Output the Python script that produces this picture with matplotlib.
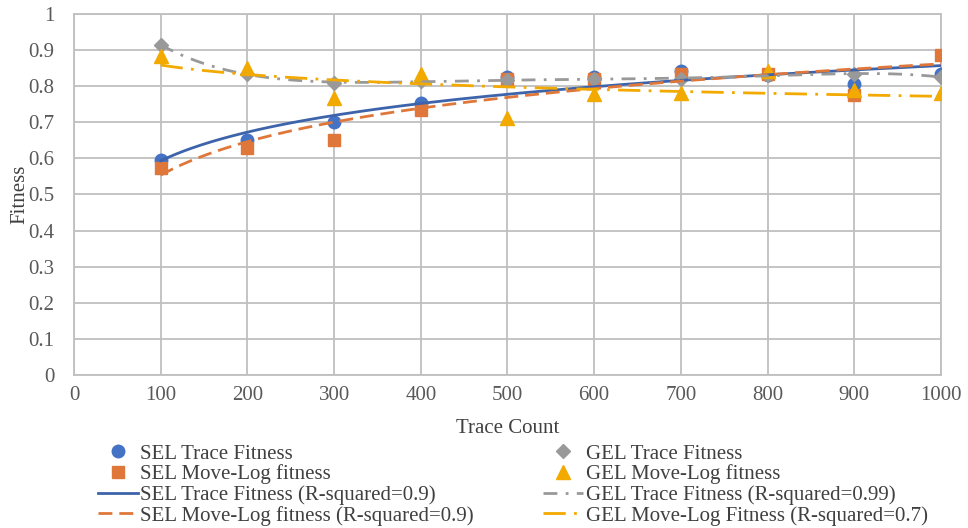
import numpy as np
import matplotlib
matplotlib.use("Agg")
import matplotlib.pyplot as plt

plt.rcParams['font.family'] = ['Liberation Serif', 'DejaVu Serif']

trace_count = [100, 200, 300, 400, 500, 600, 700, 800, 900, 1000]
sel_trace = [0.595, 0.650, 0.702, 0.754, 0.825, 0.825, 0.842, 0.832, 0.805, 0.833]
sel_move = [0.572, 0.628, 0.652, 0.734, 0.821, 0.820, 0.834, 0.835, 0.775, 0.886]
gel_trace = [0.914, 0.835, 0.808, 0.813, 0.818, 0.820, 0.820, 0.830, 0.835, 0.825]
gel_move = [0.885, 0.850, 0.767, 0.833, 0.712, 0.778, 0.780, 0.842, 0.790, 0.780]

labels_pts = ["SEL Trace Fitness", "SEL Move-Log fitness", "GEL Trace Fitness", "GEL Move-Log fitness"]
labels_fit = ["SEL Trace Fitness (R-squared=0.9)", "SEL Move-Log fitness (R-squared=0.9)",
              "GEL Trace Fitness (R-squared=0.99)", "GEL Move-Log Fitness (R-squared=0.7)"]

c_blue = '#4472C4'
c_blue_l = '#3D64AA'
c_orange = '#E0773A'
c_gray = '#999999'
c_gold = '#F2A900'

x = np.array(trace_count, dtype=float)
xs = np.linspace(100, 1000, 400)

def logfit(y):
    b, a = np.polyfit(np.log(x), np.array(y), 1)
    return a + b * np.log(xs)

def polyfit(y, deg):
    p = np.polyfit(x / 1000.0, np.array(y), deg)
    return np.polyval(p, xs / 1000.0)

fig = plt.figure(figsize=(9.68, 5.28), dpi=100)
ax = fig.add_axes([0.0764, 0.2898, 0.8957, 0.6837])

ax.set_xlim(0, 1000)
ax.set_ylim(0, 1)
ax.set_xticks(np.arange(0, 1001, 100))
ax.set_yticks(np.arange(0, 1.01, 0.1))
ax.set_yticklabels(['0', '0.1', '0.2', '0.3', '0.4', '0.5', '0.6', '0.7', '0.8', '0.9', '1'])
ax.grid(True, color='#BFBFBF', linewidth=1.3)
ax.set_axisbelow(True)
for s in ax.spines.values():
    s.set_color('#BFBFBF')
    s.set_linewidth(1.3)
ax.tick_params(length=0, labelsize=15, colors='#595959')
ax.tick_params(axis='y', pad=14)
ax.tick_params(axis='x', pad=8)

ms = 9
h1, = ax.plot(x, sel_trace, 'o', color=c_blue, ms=ms, zorder=3, label=labels_pts[0])
h2, = ax.plot(x, sel_move, 's', color=c_orange, ms=ms - 0.5, zorder=3, label=labels_pts[1])
h3, = ax.plot(x, gel_trace, 'D', color=c_gray, ms=ms - 2, zorder=3, label=labels_pts[2])
h4, = ax.plot(x, gel_move, '^', color=c_gold, ms=ms + 0.5, zorder=3, label=labels_pts[3])

lw = 2.0
f1, = ax.plot(xs, logfit(sel_trace), '-', color=c_blue_l, lw=lw, zorder=4, label=labels_fit[0])
f2, = ax.plot(xs, logfit(sel_move), color=c_orange, lw=lw, dashes=(5, 2.5), zorder=4, label=labels_fit[1])
f3, = ax.plot(xs, polyfit(gel_trace, 5), color=c_gray, lw=lw, dashes=(5, 3, 1, 3), zorder=4, label=labels_fit[2])
f4, = ax.plot(xs, logfit(gel_move), color=c_gold, lw=lw, dashes=(8, 3, 1, 3), zorder=4, label=labels_fit[3])

ax.set_xlabel('Trace Count', fontsize=15, color='#404040', labelpad=10)
ax.set_ylabel('Fitness', fontsize=15, color='#404040', labelpad=-1)

handles = [h1, h2, f1, f2, h3, h4, f3, f4]
leg = fig.legend(handles=handles, loc='upper left', bbox_to_anchor=(0.101, 0.159), ncol=2,
                 frameon=False, fontsize=15, handlelength=1.95, handletextpad=0.1,
                 columnspacing=3.3, labelspacing=0.04, borderaxespad=0, borderpad=0)
for t in leg.get_texts():
    t.set_color('#404040')

fig.savefig('out.png', dpi=100)
